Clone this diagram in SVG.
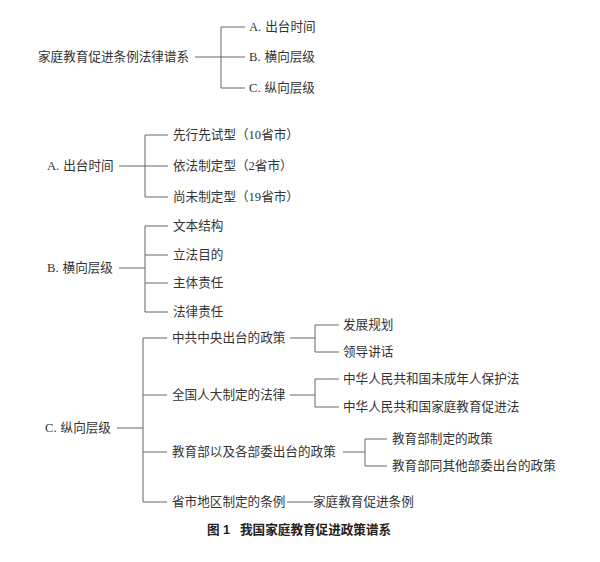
<svg xmlns="http://www.w3.org/2000/svg" width="600" height="562" viewBox="0 0 600 562">
<style>
text{font-family:"Liberation Serif","Noto Sans CJK SC",serif;font-size:12.6px;fill:#333;dominant-baseline:central}
.cap{font-family:"Liberation Sans","Noto Sans CJK SC",sans-serif;font-weight:bold;font-size:12.6px;fill:#222}
#connectors path{fill:none;stroke:#666;stroke-width:1}
</style>
<rect width="600" height="562" fill="#fff"/>
<g id="connectors">
<path d="M195 57H221M221 27V88M221 27H245M221 57H245M221 88H245"/>
<path d="M119 166H145M145 135V197M145 135H168M145 166H168M145 197H168"/>
<path d="M119 268H145M145 226V312M145 226H168M145 255H168M145 283H168M145 312H168"/>
<path d="M117 428H143M143 338V502M143 338H167M143 395H167M143 452H167M143 502H167"/>
<path d="M290 338H315M315 325V352M315 325H339M315 352H339"/>
<path d="M290 395H315M315 379V407M315 379H339M315 407H339"/>
<path d="M343 452H365M365 439V466M365 439H387M365 466H387"/>
<path d="M287 502H313"/>
</g>
<g id="root"><text x="38" y="57">家庭教育促进条例法律谱系</text></g>
<g id="a"><text x="249" y="27">A.<tspan dx="4">出台时间</tspan></text></g>
<g id="b"><text x="249" y="57">B.<tspan dx="4">横向层级</tspan></text></g>
<g id="c"><text x="249" y="88">C.<tspan dx="4">纵向层级</tspan></text></g>
<g id="a2"><text x="47" y="166">A.<tspan dx="4">出台时间</tspan></text></g>
<g id="a-1"><text x="173" y="135">先行先试型（10省市）</text></g>
<g id="a-2"><text x="173" y="166">依法制定型（2省市）</text></g>
<g id="a-3"><text x="173" y="197">尚未制定型（19省市）</text></g>
<g id="b2"><text x="47" y="268">B.<tspan dx="4">横向层级</tspan></text></g>
<g id="b-1"><text x="173" y="226">文本结构</text></g>
<g id="b-2"><text x="173" y="255">立法目的</text></g>
<g id="b-3"><text x="173" y="283">主体责任</text></g>
<g id="b-4"><text x="173" y="312">法律责任</text></g>
<g id="c2"><text x="45" y="428">C.<tspan dx="4">纵向层级</tspan></text></g>
<g id="c-1"><text x="172" y="338">中共中央出台的政策</text></g>
<g id="c-1-1"><text x="343" y="325">发展规划</text></g>
<g id="c-1-2"><text x="343" y="352">领导讲话</text></g>
<g id="c-2"><text x="172" y="395">全国人大制定的法律</text></g>
<g id="c-2-1"><text x="343" y="379">中华人民共和国未成年人保护法</text></g>
<g id="c-2-2"><text x="343" y="407">中华人民共和国家庭教育促进法</text></g>
<g id="c-3"><text x="172" y="452">教育部以及各部委出台的政策</text></g>
<g id="c-3-1"><text x="392" y="439">教育部制定的政策</text></g>
<g id="c-3-2"><text x="392" y="466">教育部同其他部委出台的政策</text></g>
<g id="c-4"><text x="172" y="502">省市地区制定的条例</text></g>
<g id="c-4-1"><text x="313" y="502">家庭教育促进条例</text></g>
<g id="caption"><text class="cap" x="207" y="530">图 1</text><text class="cap" x="240" y="530">我国家庭教育促进政策谱系</text></g>
</svg>
